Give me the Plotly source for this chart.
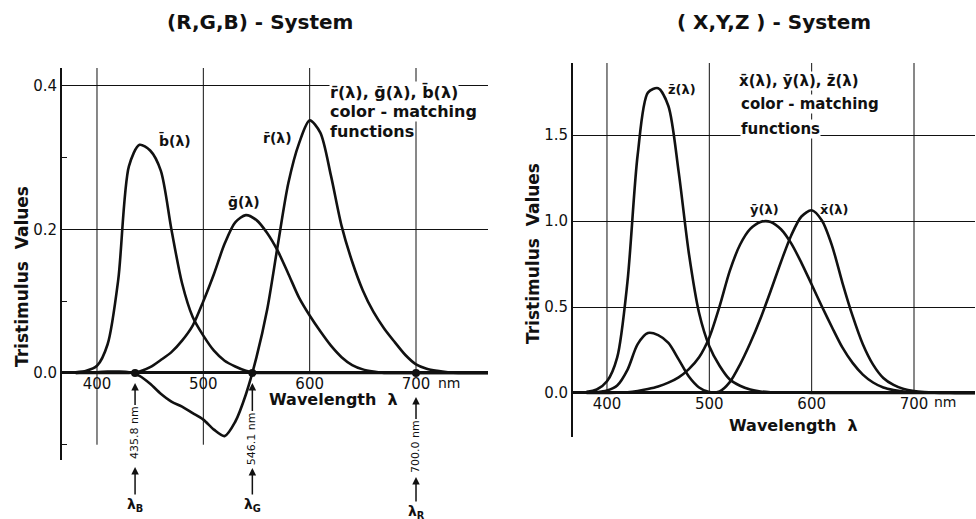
import plotly.graph_objects as go

W, H = 976, 519

# ---------------- data ----------------
wavelength = list(range(380, 781, 10))

# (R,G,B) colour-matching functions
r_bar = [0.000, 0.001, 0.001, 0.002, 0.002, 0.001, -0.004, -0.015, -0.029, -0.040,
         -0.047, -0.056, -0.065, -0.079, -0.088, -0.068, -0.030, 0.022, 0.088, 0.178,
         0.265, 0.320, 0.352, 0.335, 0.275, 0.205, 0.155, 0.115, 0.085, 0.062,
         0.043, 0.025, 0.012, 0.006, 0.003, 0.001, 0.0, 0.0, 0.0, 0.0, 0.0]
g_bar = [0.0, 0.0, 0.0, 0.0, 0.0, 0.0, 0.002, 0.008, 0.018, 0.029,
         0.045, 0.066, 0.100, 0.138, 0.180, 0.210, 0.220, 0.213, 0.195, 0.170,
         0.138, 0.105, 0.080, 0.058, 0.038, 0.022, 0.011, 0.005, 0.002, 0.0,
         0.0, 0.0, 0.0, 0.0, 0.0, 0.0, 0.0, 0.0, 0.0, 0.0, 0.0]
b_bar = [0.001, 0.003, 0.010, 0.040, 0.130, 0.288, 0.318, 0.310, 0.282, 0.200,
         0.125, 0.078, 0.052, 0.031, 0.017, 0.009, 0.003, 0.0, 0.0, 0.0,
         0.0, 0.0, 0.0, 0.0, 0.0, 0.0, 0.0, 0.0, 0.0, 0.0,
         0.0, 0.0, 0.0, 0.0, 0.0, 0.0, 0.0, 0.0, 0.0, 0.0, 0.0]

# (X,Y,Z) colour-matching functions
x_bar = [0.001368, 0.004243, 0.01431, 0.04351, 0.13438, 0.2839, 0.34828, 0.3362, 0.2908, 0.19536,
         0.09564, 0.03201, 0.0049, 0.0093, 0.06327, 0.1655, 0.2904, 0.43345, 0.5945, 0.7621,
         0.9163, 1.0263, 1.0622, 1.0026, 0.85445, 0.6424, 0.4479, 0.2835, 0.1649, 0.0874,
         0.04677, 0.0227, 0.011359, 0.00579, 0.002899, 0.00144, 0.00069, 0.000332, 0.000166, 0.000083,
         0.000042]
y_bar = [0.000039, 0.00012, 0.000396, 0.00121, 0.004, 0.0116, 0.023, 0.038, 0.06, 0.09098,
         0.13902, 0.20802, 0.323, 0.503, 0.71, 0.862, 0.954, 0.99495, 0.995, 0.952,
         0.87, 0.757, 0.631, 0.503, 0.381, 0.265, 0.175, 0.107, 0.061, 0.032,
         0.017, 0.00821, 0.004102, 0.002091, 0.001047, 0.00052, 0.000249, 0.00012, 0.00006, 0.00003,
         0.000015]
z_bar = [0.00645, 0.02005, 0.06785, 0.2074, 0.6456, 1.3856, 1.74706, 1.77211, 1.6692, 1.28764,
         0.81295, 0.46518, 0.272, 0.1582, 0.07825, 0.04216, 0.0203, 0.00875, 0.0039, 0.0021,
         0.00165, 0.0011, 0.0008, 0.00034, 0.00019, 0.00005, 0.00002, 0.0, 0.0, 0.0,
         0.0, 0.0, 0.0, 0.0, 0.0, 0.0, 0.0, 0.0, 0.0, 0.0, 0.0]

# tick values / labels
x_ticks = [400, 500, 600, 700]
x_ticktext = ["400", "500", "600", "700"]
rgb_yticks = [0.0, 0.2, 0.4]
rgb_yticktext = ["0.0", "0.2", "0.4"]
rgb_minor_ticks = [-0.1, 0.1, 0.3]
xyz_yticks = [0.0, 0.5, 1.0, 1.5]
xyz_yticktext = ["0.0", "0.5", "1.0", "1.5"]

# primaries
primary_wl = [435.8, 546.1, 700.0]
primary_text = ["435.8 nm", "546.1 nm", "700.0 nm"]
primary_sym = ["λ<sub>B</sub>", "λ<sub>G</sub>", "λ<sub>R</sub>"]

# ---------------- layout helpers ----------------
def fx(px):
    return px / W

def fy(py):
    return 1 - py / H

FONT = "DejaVu Sans"
BLACK = "#111111"

L_XR = [367.1, 767.7]
L_YR = [-0.1213, 0.425]
R_XR = [366.8, 759.6]
R_YR = [-0.256, 1.919]
L_DOM_X = [fx(62), fx(488)]
L_DOM_Y = [fy(460), fy(68)]
R_DOM_X = [fx(573), fx(975)]
R_DOM_Y = [fy(437), fy(63)]

def zero_pos(dom, rng):
    return dom[0] + (0 - rng[0]) / (rng[1] - rng[0]) * (dom[1] - dom[0])

fig = go.Figure()

line_style = dict(color=BLACK, width=2.6, shape="spline", smoothing=0.8)
for series in (r_bar, g_bar, b_bar):
    fig.add_trace(go.Scatter(x=wavelength, y=series, mode="lines", line=line_style,
                             xaxis="x", yaxis="y", hoverinfo="skip"))
for series in (x_bar, y_bar, z_bar):
    fig.add_trace(go.Scatter(x=wavelength, y=series, mode="lines", line=line_style,
                             xaxis="x2", yaxis="y2", hoverinfo="skip"))

fig.add_trace(go.Scatter(x=primary_wl, y=[0] * len(primary_wl), mode="markers",
                         marker=dict(color=BLACK, size=8), xaxis="x", yaxis="y",
                         hoverinfo="skip"))

tick_font = dict(family=FONT, size=15, color=BLACK)

fig.update_layout(
    width=W, height=H, margin=dict(l=0, r=0, t=0, b=0),
    paper_bgcolor="white", plot_bgcolor="white", showlegend=False,
    xaxis=dict(domain=L_DOM_X, range=L_XR, anchor="free",
               position=zero_pos(L_DOM_Y, L_YR), tickvals=x_ticks, ticktext=x_ticktext,
               showgrid=False, zeroline=False, showline=False, ticks="",
               tickfont=tick_font),
    yaxis=dict(domain=L_DOM_Y, range=L_YR, anchor="x", tickvals=rgb_yticks,
               ticktext=rgb_yticktext, showgrid=True, gridcolor=BLACK, gridwidth=1,
               zeroline=True, zerolinecolor=BLACK, zerolinewidth=2.5,
               showline=True, linecolor=BLACK, linewidth=2, ticks="",
               tickfont=tick_font,
               minor=dict(tickvals=rgb_minor_ticks, ticks="inside", ticklen=5,
                          tickcolor=BLACK, tickwidth=1, showgrid=False)),
    xaxis2=dict(domain=R_DOM_X, range=R_XR, anchor="free",
                position=zero_pos(R_DOM_Y, R_YR), tickvals=x_ticks, ticktext=x_ticktext,
                showgrid=False, zeroline=False, showline=False, ticks="",
                tickfont=tick_font),
    yaxis2=dict(domain=R_DOM_Y, range=R_YR, anchor="x2", tickvals=xyz_yticks,
                ticktext=xyz_yticktext, showgrid=True, gridcolor=BLACK, gridwidth=1,
                zeroline=True, zerolinecolor=BLACK, zerolinewidth=2.5,
                showline=True, linecolor=BLACK, linewidth=2, ticks="",
                tickfont=tick_font),
)

# vertical grid lines
shapes = []
for w in x_ticks:
    shapes.append(dict(type="line", xref="x", yref="y", x0=w, x1=w,
                       y0=(-0.1 if w < 550 else 0), y1=L_YR[1],
                       line=dict(color=BLACK, width=1), layer="below"))
    shapes.append(dict(type="line", xref="x2", yref="y2", x0=w, x1=w,
                       y0=0, y1=R_YR[1], line=dict(color=BLACK, width=1), layer="below"))
fig.update_layout(shapes=shapes)

ann = []
bold = lambda s: "<b>" + s + "</b>"

def text(x, y, s, size=15, xanchor="center", bg=None, angle=0, weight=True):
    d = dict(x=fx(x), y=fy(y), xref="paper", yref="paper", text=bold(s) if weight else s,
             showarrow=False, xanchor=xanchor, yanchor="middle", textangle=angle,
             font=dict(family=FONT, size=size, color=BLACK), borderpad=0)
    if bg:
        d["bgcolor"] = bg
    ann.append(d)

# titles
text(260, 22, "(R,G,B) - System", size=20)
text(774, 22, "( X,Y,Z ) - System", size=20)
# y-axis titles
text(22, 277, "Tristimulus  Values", size=17, angle=-90)
text(533, 254, "Tristimulus  Values", size=17, angle=-90)
# x-axis titles
text(333, 399, "Wavelength  λ", size=16)
text(793, 425, "Wavelength  λ", size=16)
# "nm" after 700
text(437, 383, "nm", size=14, xanchor="left", weight=False)
text(933, 402, "nm", size=14, xanchor="left", weight=False)

# curve labels
text(175, 140, "b\u0304(λ)", size=14)
text(277, 138, "r\u0304(λ)", size=14)
text(244, 202, "g\u0304(λ)", size=14)
text(682, 89, "z\u0304(λ)", size=13)
text(764, 209, "y\u0304(λ)", size=13)
text(834, 209, "x\u0304(λ)", size=13)

# text blocks
text(329, 92, "r\u0304(λ), g\u0304(λ), b\u0304(λ)", size=16, xanchor="left", bg="white")
text(329, 112, "color - matching", size=16, xanchor="left", bg="white")
text(329, 131, "functions", size=16, xanchor="left", bg="white")
text(738, 81, "x\u0304(λ), y\u0304(λ), z\u0304(λ)", size=15, xanchor="left", bg="white")
text(740, 104, "color - matching", size=15, xanchor="left", bg="white")
text(740, 129, "functions", size=15, xanchor="left", bg="white")

# primary wavelength arrows
y0_px = 373
text_center = [433, 439, 447]
head2 = [467, 468, 477]
sym_center = [505, 505, 512]
stand = [10, 10, 24]
for w, t, s, tc, h2, sc, st in zip(primary_wl, primary_text, primary_sym,
                                   text_center, head2, sym_center, stand):
    ann.append(dict(x=w, y=0, xref="x", yref="y", text=t, textangle=-90,
                    showarrow=True, ax=0, ay=tc - y0_px, arrowhead=2, arrowsize=1,
                    arrowwidth=1.5, arrowcolor=BLACK, standoff=st,
                    font=dict(family=FONT, size=11, color=BLACK)))
    ann.append(dict(x=w, y=fy(h2), xref="x", yref="paper", text=bold(s),
                    showarrow=True, ax=0, ay=sc - h2, arrowhead=2, arrowsize=1,
                    arrowwidth=1.5, arrowcolor=BLACK, standoff=0,
                    font=dict(family=FONT, size=14, color=BLACK)))

fig.update_layout(annotations=ann)
fig.write_html("out.html")
